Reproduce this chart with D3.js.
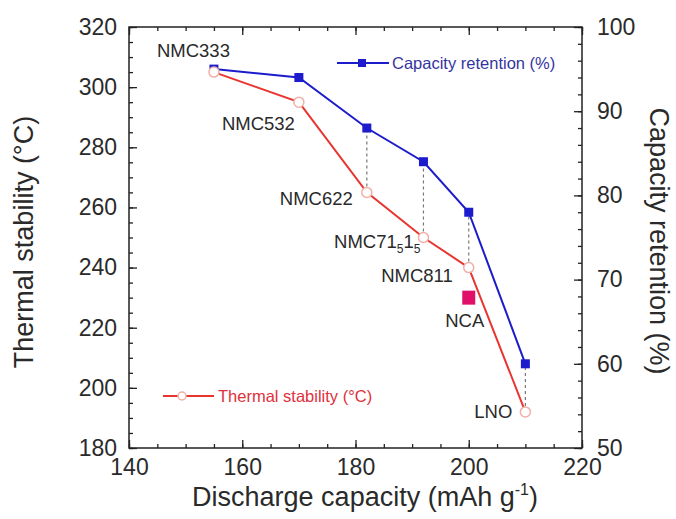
<!DOCTYPE html>
<html>
<head>
<meta charset="utf-8">
<script src="https://cdn.jsdelivr.net/npm/d3@7"></script>
<style>
  body { margin: 0; background: #fff; }
  svg { font-family: "Liberation Sans", Arial, sans-serif; }
</style>
</head>
<body>
<svg id="chart"></svg>
<script>
// discharge capacity (mAh/g) of each cathode
var capacity = [155, 170, 182, 192, 200, 210]
var materials = ['NMC333', 'NMC532', 'NMC622', 'NMC71515', 'NMC811', 'LNO']
// thermal stability (°C), left axis
var thermal = [305, 295, 265, 250, 240, 192]
// capacity retention (%), right axis
var retention = [95, 94, 88, 84, 78, 60]
// NCA point (thermal axis)
var ncaCapacity = [200]
var ncaThermal = [230]

var xTicks = [140, 160, 180, 200, 220]
var yLeftTicks = [180, 200, 220, 240, 260, 280, 300, 320]
var yRightTicks = [50, 60, 70, 80, 90, 100]

var width = 676, height = 519
var margin = {top: 27, right: 94, bottom: 71, left: 129}
var w = width - margin.left - margin.right,
    h = height - margin.top - margin.bottom

var svg = d3.select('#chart').attr('width', width).attr('height', height)
var g = svg.append('g')
    .attr('transform', 'translate(' + margin.left + ',' + margin.top + ')')

var x = d3.scaleLinear().domain([140, 220]).range([0, w])
var yL = d3.scaleLinear().domain([180, 320]).range([h, 0])
var yR = d3.scaleLinear().domain([50, 100]).range([h, 0])

var axisColor = '#222', textColor = '#2a2a2a'
var blue = '#1c1ccc', red = '#e8352f'

function styleAxis(sel) {
    sel.select('.domain').remove()
    sel.selectAll('line').attr('stroke', axisColor).attr('stroke-width', 1.3)
    sel.selectAll('text').attr('fill', textColor).style('font-size', '23px')
}

// minor ticks
g.append('g').attr('transform', 'translate(0,' + h + ')')
    .call(d3.axisBottom(x).tickValues(d3.range(140, 221, 5)).tickSize(-4).tickFormat(''))
    .call(styleAxis)
g.append('g')
    .call(d3.axisTop(x).tickValues(d3.range(140, 221, 5)).tickSize(-4).tickFormat(''))
    .call(styleAxis)
g.append('g')
    .call(d3.axisLeft(yL).tickValues(d3.range(180, 321, 5)).tickSize(-4).tickFormat(''))
    .call(styleAxis)
g.append('g').attr('transform', 'translate(' + w + ',0)')
    .call(d3.axisRight(yR).tickValues(d3.range(50, 101, 2)).tickSize(-4).tickFormat(''))
    .call(styleAxis)

// major ticks
g.append('g').attr('transform', 'translate(0,' + h + ')')
    .call(d3.axisBottom(x).tickValues(xTicks).tickSize(-8).tickPadding(11))
    .call(styleAxis)
g.append('g')
    .call(d3.axisTop(x).tickValues(xTicks).tickSize(-8).tickFormat(''))
    .call(styleAxis)
g.append('g')
    .call(d3.axisLeft(yL).tickValues(yLeftTicks).tickSize(-8).tickPadding(12))
    .call(styleAxis)
g.append('g').attr('transform', 'translate(' + w + ',0)')
    .call(d3.axisRight(yR).tickValues(yRightTicks).tickSize(-8).tickPadding(15))
    .call(styleAxis)

// frame
g.append('rect').attr('width', w).attr('height', h)
    .attr('fill', 'none').attr('stroke', axisColor).attr('stroke-width', 1.5)

// dashed connectors
var pairs = d3.range(capacity.length).filter(function(i){ return capacity[i] > 175 })
g.selectAll('.conn').data(pairs).enter().append('line')
    .attr('x1', function(i){ return x(capacity[i]) })
    .attr('x2', function(i){ return x(capacity[i]) })
    .attr('y1', function(i){ return yL(thermal[i]) })
    .attr('y2', function(i){ return yR(retention[i]) })
    .attr('stroke', '#777').attr('stroke-width', 1.2)
    .attr('stroke-dasharray', '3,3')

// lines
var lineT = d3.line().x(function(d, i){ return x(capacity[i]) }).y(function(d){ return yL(d) })
var lineR = d3.line().x(function(d, i){ return x(capacity[i]) }).y(function(d){ return yR(d) })

g.append('path').datum(thermal).attr('d', lineT)
    .attr('fill', 'none').attr('stroke', red).attr('stroke-width', 2)
g.append('path').datum(retention).attr('d', lineR)
    .attr('fill', 'none').attr('stroke', blue).attr('stroke-width', 2)

g.selectAll('.sq').data(retention).enter().append('rect')
    .attr('x', function(d, i){ return x(capacity[i]) - 4.5 })
    .attr('y', function(d){ return yR(d) - 4.5 })
    .attr('width', 9).attr('height', 9)
    .attr('fill', blue)

g.selectAll('.ci').data(thermal).enter().append('circle')
    .attr('cx', function(d, i){ return x(capacity[i]) })
    .attr('cy', function(d){ return yL(d) })
    .attr('r', 5)
    .attr('fill', '#fff').attr('stroke', '#f0b0a8').attr('stroke-width', 1.5)

// NCA
g.selectAll('.nca').data(ncaThermal).enter().append('rect')
    .attr('x', function(d, i){ return x(ncaCapacity[i]) - 6.5 })
    .attr('y', function(d){ return yL(d) - 7 })
    .attr('width', 13).attr('height', 14)
    .attr('fill', '#e0106a')

// point labels: offsets from each point, first label anchored at start
var labelOffsets = [[-57, -15], [-4, 28], [-14, 13], [-3, 10.5], [-16, 14], [-13, 6]]
var labels = g.selectAll('.lab').data(materials).enter().append('text')
    .attr('x', function(d, i){ return x(capacity[i]) + labelOffsets[i][0] })
    .attr('y', function(d, i){ return yL(thermal[i]) + labelOffsets[i][1] })
    .attr('text-anchor', function(d, i){ return i == 0 ? 'start' : 'end' })
    .attr('fill', textColor)
    .style('font-size', '18.5px')
labels.each(function(d) {
    var t = d3.select(this)
    if (d == 'NMC71515') {
        t.append('tspan').text('NMC71')
        t.append('tspan').text('5').attr('dy', 5).style('font-size', '12px')
        t.append('tspan').text('1').attr('dy', -5)
        t.append('tspan').text('5').attr('dy', 5).style('font-size', '12px')
    } else {
        t.text(d)
    }
})
g.selectAll('.ncalab').data(ncaThermal).enter().append('text')
    .attr('x', function(d, i){ return x(ncaCapacity[i]) - 4 })
    .attr('y', function(d){ return yL(d) + 29 })
    .attr('text-anchor', 'middle')
    .attr('fill', textColor).style('font-size', '18.5px')
    .text('NCA')

// legends
var legB = g.append('g').attr('transform', 'translate(' + (337 - margin.left) + ',' + (63 - margin.top) + ')')
legB.append('line').attr('x1', 0).attr('x2', 52).attr('stroke', blue).attr('stroke-width', 2)
legB.append('rect').attr('x', 21).attr('y', -4).attr('width', 8).attr('height', 8).attr('fill', blue)
legB.append('text').attr('x', 55).attr('y', 6).attr('fill', '#3535a0')
    .style('font-size', '16.5px').text('Capacity retention (%)')

var legR = g.append('g').attr('transform', 'translate(' + (163 - margin.left) + ',' + (396 - margin.top) + ')')
legR.append('line').attr('x1', 0).attr('x2', 51).attr('stroke', red).attr('stroke-width', 2)
legR.append('circle').attr('cx', 19).attr('r', 4).attr('fill', '#fff').attr('stroke', '#f0b0a8').attr('stroke-width', 1.5)
legR.append('text').attr('x', 55).attr('y', 6).attr('fill', '#e0303c')
    .style('font-size', '16.5px').text('Thermal stability (°C)')

// axis titles
svg.append('text')
    .attr('transform', 'translate(33,242) rotate(-90)')
    .attr('text-anchor', 'middle').attr('fill', textColor)
    .style('font-size', '27px').text('Thermal stability (°C)')
svg.append('text')
    .attr('transform', 'translate(650,241) rotate(90)')
    .attr('text-anchor', 'middle').attr('fill', textColor)
    .style('font-size', '27px').text('Capacity retention (%)')
var xt = svg.append('text')
    .attr('x', 365).attr('y', 506)
    .attr('text-anchor', 'middle').attr('fill', textColor)
    .style('font-size', '27px')
xt.append('tspan').text('Discharge capacity (mAh g')
xt.append('tspan').text('-1').attr('dy', -11).style('font-size', '16px')
xt.append('tspan').text(')').attr('dy', 11)
</script>
</body>
</html>
